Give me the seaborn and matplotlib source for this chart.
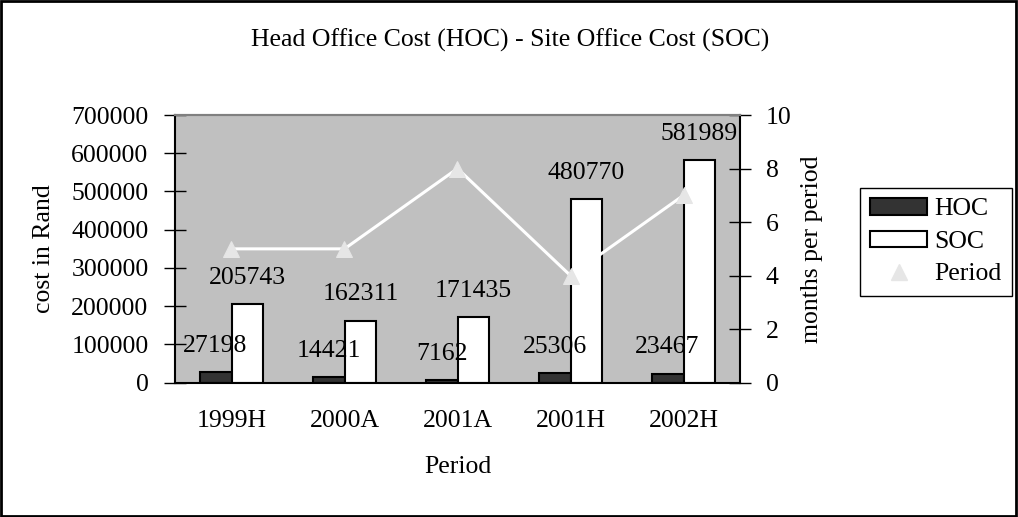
import numpy as np
import pandas as pd
import matplotlib
matplotlib.use("Agg")
import matplotlib.pyplot as plt
from matplotlib.patches import Patch, Rectangle
from matplotlib.lines import Line2D
import seaborn as sns

# data
periods = ["1999H", "2000A", "2001A", "2001H", "2002H"]
hoc = [27198, 14421, 7162, 25306, 23467]
soc = [205743, 162311, 171435, 480770, 581989]
months = [5, 5, 8, 4, 7]

sns.set_style("white")
plt.rcParams["font.family"] = ["Liberation Serif", "DejaVu Serif"]
plt.rcParams["font.size"] = 18.5
for key in ["text.color", "axes.labelcolor", "xtick.color", "ytick.color"]:
    plt.rcParams[key] = "black"

df = pd.DataFrame({
    "Period": periods * 2,
    "cost": hoc + soc,
    "series": ["HOC"] * len(periods) + ["SOC"] * len(periods),
})

fig = plt.figure(figsize=(10.18, 5.17), dpi=100)
ax = fig.add_axes([175 / 1018, 1 - 382.7 / 517, 565 / 1018, 267.7 / 517])
ax.set_facecolor("#c0c0c0")

sns.barplot(data=df, x="Period", y="cost", hue="series", order=periods,
            palette=["#333333", "white"], saturation=1, width=0.566, gap=0,
            edgecolor="black", linewidth=1.5, legend=False, ax=ax)

for cont, vals in zip(ax.containers, [hoc, soc]):
    ax.bar_label(cont, labels=[str(v) for v in vals], padding=11, fontsize=18.5)

ax.set_ylim(0, 700000)
ax.set_yticks(np.arange(0, 700001, 100000))
ax.set_yticklabels([str(v) for v in range(0, 700001, 100000)])
ax.set_xlim(-0.5, len(periods) - 0.5)
ax.set_xticks(np.arange(-0.5, len(periods)), labels=[])
ax.set_xticks(np.arange(len(periods)), labels=periods, minor=True)
ax.tick_params(axis="x", which="major", direction="inout", length=16, width=1, color="black")
ax.tick_params(axis="x", which="minor", length=0, pad=20, labelsize=18.5)
ax.tick_params(axis="y", direction="inout", length=16, width=1, pad=11, labelsize=18.5,
               left=True, color="black")

ax.set_xlabel("Period", fontsize=18.5)
ax.xaxis.set_label_coords(0.5, (382.7 - 467) / 267.7)
ax.xaxis.label.set_va("center")
ax.set_ylabel("cost in Rand", fontsize=18.5)
ax.yaxis.set_label_coords((44 - 175) / 565, 0.5)
ax.yaxis.label.set_va("center")

ax2 = ax.twinx()
sns.lineplot(x=np.arange(len(periods)), y=months, ax=ax2, color="white", linewidth=2.2,
             marker="^", markersize=12, markerfacecolor="#e6e6e6",
             markeredgecolor="#e6e6e6")
ax2.set_ylim(0, 10)
ax2.set_yticks(range(0, 11, 2))
ax2.tick_params(axis="y", direction="inout", length=16, width=1, pad=10.5, labelsize=18.5,
                right=True, color="black")
ax2.set_ylabel("months per period", fontsize=18.5)
ax2.yaxis.set_label_coords((812 - 175) / 565, 0.5)
ax2.yaxis.label.set_va("center")
ax.set_xlim(-0.5, len(periods) - 0.5)

for a in (ax, ax2):
    for side in ["left", "bottom", "right"]:
        a.spines[side].set_color("black")
        a.spines[side].set_linewidth(1.5)
    a.spines["top"].set_color("#808080")
    a.spines["top"].set_linewidth(1.5)
ax.spines["right"].set_visible(False)
ax2.spines["left"].set_visible(False)
ax2.spines["bottom"].set_visible(False)

fig.text(510 / 1018, 1 - 40 / 517, "Head Office Cost (HOC) - Site Office Cost (SOC)",
         ha="center", va="center", fontsize=18.5)

handles = [
    Patch(facecolor="#333333", edgecolor="black", linewidth=1.5),
    Patch(facecolor="white", edgecolor="black", linewidth=1.5),
    Line2D([], [], linestyle="none", marker="^", markersize=12,
           markerfacecolor="#e6e6e6", markeredgecolor="#e6e6e6"),
]
leg = fig.legend(handles, ["HOC", "SOC", "Period"], loc="upper left",
                 bbox_to_anchor=(860 / 1018, 1 - 188 / 517), fontsize=18.5,
                 frameon=True, fancybox=False, edgecolor="black", framealpha=1,
                 handlelength=2.2, handleheight=0.6, handletextpad=0.3,
                 labelspacing=0.4, borderpad=0.4, borderaxespad=0)
leg.get_frame().set_linewidth(1)

fig.patches.append(Rectangle((0.001, 0.002), 0.997, 0.996, transform=fig.transFigure,
                             fill=False, edgecolor="black", linewidth=2))

fig.savefig("out.png", dpi=100)
